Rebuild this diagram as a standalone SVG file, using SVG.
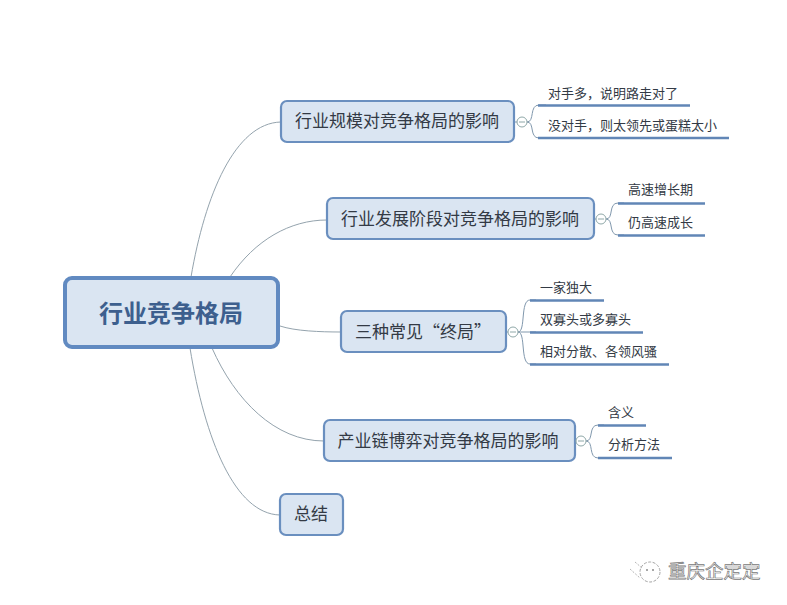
<svg xmlns="http://www.w3.org/2000/svg" width="787" height="605" viewBox="0 0 787 605">
<style>
text{font-family:"Noto Sans CJK SC","Liberation Sans",sans-serif;fill:#333a45}
.n{fill:#dae5f2;stroke:#6a8fbf;stroke-width:2.2}
.t{font-size:17px;text-anchor:middle}
.s{font-size:13px}
.c{fill:none;stroke:#94a3ad;stroke-width:1}
.b{fill:none;stroke:#8198ad;stroke-width:1}
.u{fill:none;stroke:#6186b6;stroke-width:2.6}
.o{fill:#fff;stroke:#8fa8a8;stroke-width:1}
.m{stroke:#8fa8a8;stroke-width:1}
</style>
<rect width="787" height="605" fill="#fff"/>
<g id="connectors">
<path class="c" d="M191 277C205 195 235 123 281 122"/>
<path class="c" d="M230 277C255 240 290 220 327 220"/>
<path class="c" d="M280 326C295 331 320 332 341 332"/>
<path class="c" d="M212 348C235 400 275 441 324 441"/>
<path class="c" d="M190 348C205 440 235 514 280 515"/>
<path class="b" d="M514 122H522M527 122C535 122 529 105 539 105H546M527 122C535 122 529 138 539 138H546"/>
<path class="b" d="M594 219H601M606 219C614 219 608 203 618 203H624M606 219C614 219 608 235 618 235H624"/>
<path class="b" d="M506 332H513M518 332C526 332 520 300 530 300H536M518 332H536M518 332C526 332 520 364 530 364H536"/>
<path class="b" d="M575 441H581M586 441C594 441 588 425 598 425H604M586 441C594 441 588 458 598 458H604"/>
</g>
<g id="root">
<rect x="65" y="278" width="213" height="69" rx="7" fill="#dae5f2" stroke="#618ac1" stroke-width="4"/>
<text x="171" y="322" font-size="24" font-weight="700" text-anchor="middle" style="fill:#3d5f8e">行业竞争格局</text>
</g>
<g id="node1">
<rect class="n" x="281" y="101" width="233" height="41" rx="6"/>
<text class="t" x="397" y="127">行业规模对竞争格局的影响</text>
<circle class="o" cx="522" cy="122" r="5"/><path class="m" d="M519 122H525"/>
</g>
<g id="node1a"><text class="s" x="548" y="98">对手多，说明路走对了</text><path class="u" d="M538 105.500H690"/></g>
<g id="node1b"><text class="s" x="548" y="130">没对手，则太领先或蛋糕太小</text><path class="u" d="M538 138H729"/></g>
<g id="node2">
<rect class="n" x="327" y="198" width="267" height="41" rx="6"/>
<text class="t" x="460" y="225">行业发展阶段对竞争格局的影响</text>
<circle class="o" cx="601" cy="219" r="5"/><path class="m" d="M598 219H604"/>
</g>
<g id="node2a"><text class="s" x="628" y="194">高速增长期</text><path class="u" d="M618 203.500H705"/></g>
<g id="node2b"><text class="s" x="628" y="227">仍高速成长</text><path class="u" d="M618 235.500H705"/></g>
<g id="node3">
<rect class="n" x="341" y="311" width="165" height="41" rx="6"/>
<text class="t" x="355" y="338" style="text-anchor:start">三种常见“终局”</text>
<circle class="o" cx="513" cy="332" r="5"/><path class="m" d="M510 332H516"/>
</g>
<g id="node3a"><text class="s" x="540" y="292">一家独大</text><path class="u" d="M530 300.500H604"/></g>
<g id="node3b"><text class="s" x="540" y="324">双寡头或多寡头</text><path class="u" d="M530 332.500H643"/></g>
<g id="node3c"><text class="s" x="540" y="356">相对分散、各领风骚</text><path class="u" d="M530 364.500H669"/></g>
<g id="node4">
<rect class="n" x="324" y="420" width="251" height="41" rx="6"/>
<text class="t" x="448" y="447">产业链博弈对竞争格局的影响</text>
<circle class="o" cx="581" cy="441" r="5"/><path class="m" d="M578 441H584"/>
</g>
<g id="node4a"><text class="s" x="608" y="417">含义</text><path class="u" d="M598 425.500H646"/></g>
<g id="node4b"><text class="s" x="608" y="449">分析方法</text><path class="u" d="M598 458H672"/></g>
<g id="node5">
<rect class="n" x="280" y="494" width="63" height="41" rx="6"/>
<text class="t" x="311" y="520">总结</text>
</g>
<g id="watermark">
<circle cx="650" cy="572" r="10" fill="none" stroke="#a5a5a5" stroke-width="1" stroke-dasharray="3 1.500"/>
<path d="M630 569L640 578M635 562L642 568" fill="none" stroke="#b5b5b5" stroke-width="1" stroke-dasharray="2 1.500"/>
<circle cx="647" cy="570" r="1" fill="#8a8a8a"/><circle cx="653" cy="570" r="1" fill="#8a8a8a"/>
<text x="668" y="578" font-size="18.500" style="fill:#fff;stroke:#777;stroke-width:.7">重庆企定定</text>
</g>
</svg>
